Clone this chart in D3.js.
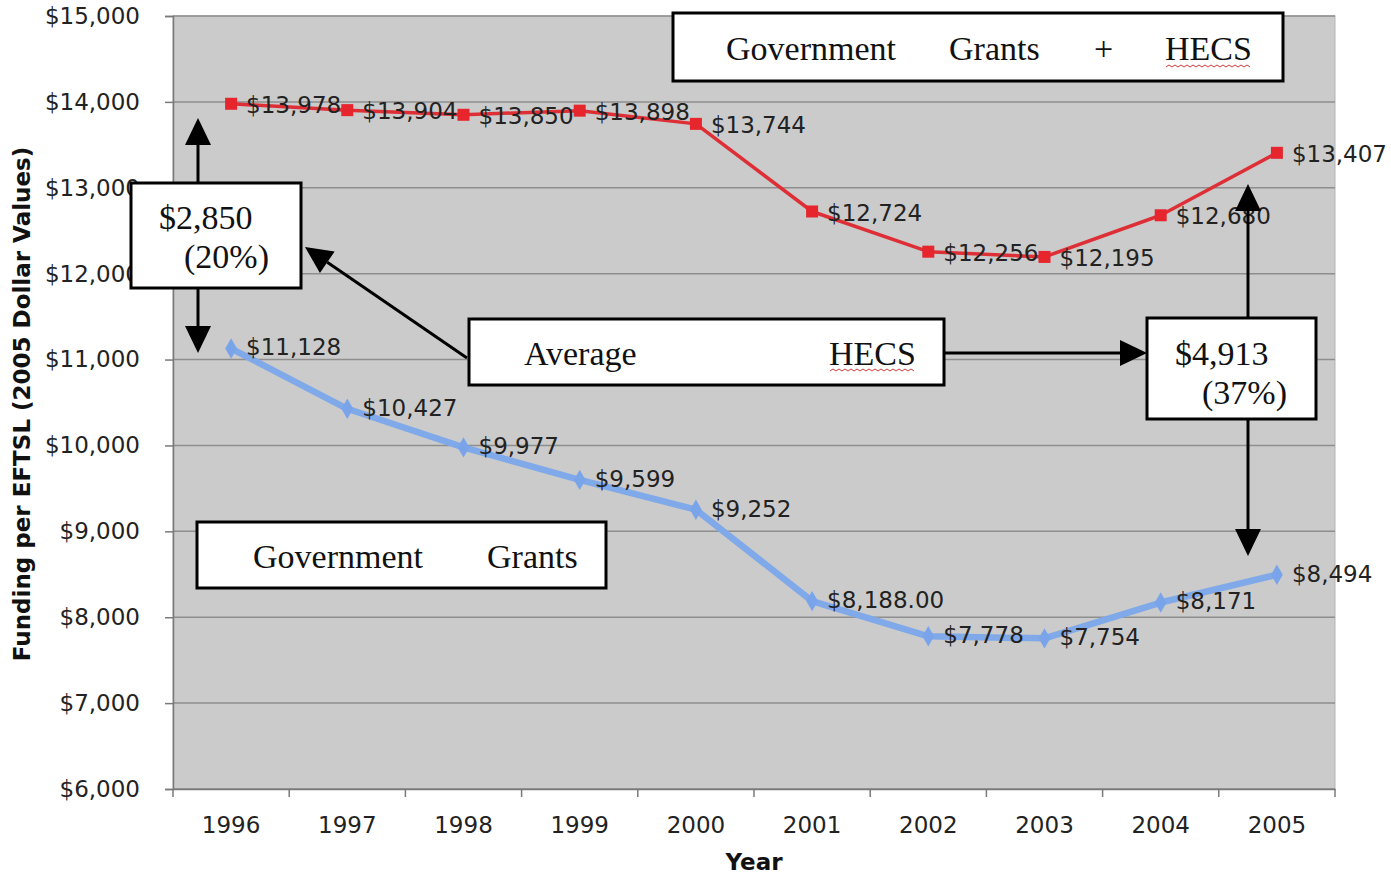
<!DOCTYPE html>
<html>
<head>
<meta charset="utf-8">
<script src="https://cdn.jsdelivr.net/npm/d3@7"></script>
<style>
  html, body { margin: 0; padding: 0; background: #ffffff; }
  svg { display: block; }
</style>
</head>
<body>
<svg id="chart" width="1391" height="874"></svg>
<script>
// ---- data ----
const years = ['1996','1997','1998','1999','2000','2001','2002','2003','2004','2005'];
const grantsPlusHecs = [13978, 13904, 13850, 13898, 13744, 12724, 12256, 12195, 12680, 13407];
const grantsOnly = [11128, 10427, 9977, 9599, 9252, 8188, 7778, 7754, 8171, 8494];
const grantsPlusHecsLabels = ['$13,978','$13,904','$13,850','$13,898','$13,744','$12,724','$12,256','$12,195','$12,680','$13,407'];
const grantsOnlyLabels = ['$11,128','$10,427','$9,977','$9,599','$9,252','$8,188.00','$7,778','$7,754','$8,171','$8,494'];
const yTicks = [6000, 7000, 8000, 9000, 10000, 11000, 12000, 13000, 14000, 15000];
const yTitle = 'Funding per EFTSL (2005 Dollar Values)';
const xTitle = 'Year';

// ---- layout ----
const svg = d3.select('#chart');
const L = 173, R = 1335, T = 16, B = 789;
const x = d3.scaleBand().domain(years).range([L, R]);
const y = d3.scaleLinear().domain([6000, 15000]).range([B, T]);
const cx = d => x(d) + x.bandwidth() / 2;
const sans = 'DejaVu Sans, Verdana, sans-serif';

// plot background
svg.append('rect').attr('x', L).attr('y', T).attr('width', R - L).attr('height', B - T)
  .attr('fill', '#cbcbcb').attr('stroke', '#b4b4b4').attr('stroke-width', 1);

// gridlines
svg.append('g').selectAll('line').data(yTicks).join('line')
  .attr('x1', L).attr('x2', R).attr('y1', d => y(d)).attr('y2', d => y(d))
  .attr('stroke', '#8e8e8e').attr('stroke-width', 1.5);

// y axis
const yAxis = svg.append('g').attr('transform', `translate(${L},0)`)
  .call(d3.axisLeft(y).tickValues(yTicks).tickFormat(d3.format('$,')).tickSize(8).tickPadding(25));
yAxis.select('.domain').attr('stroke', '#7a7a7a').attr('stroke-width', 1.5);
yAxis.selectAll('.tick line').attr('stroke', '#7a7a7a').attr('stroke-width', 1.5);
yAxis.selectAll('.tick text').attr('font-family', sans)
  .attr('font-size', 23).attr('fill', '#222');

// x axis
const xAxis = svg.append('g').attr('transform', `translate(0,${B})`)
  .call(d3.axisBottom(x).tickSize(0).tickPadding(30));
xAxis.select('.domain').attr('stroke', '#7a7a7a').attr('stroke-width', 1.5);
xAxis.selectAll('.tick text').attr('font-family', sans)
  .attr('font-size', 23).attr('fill', '#222').attr('dy', '0.35em').attr('y', 36);
// boundary ticks
svg.append('g').selectAll('line').data(years.concat(['end'])).join('line')
  .attr('x1', (d, i) => L + i * x.step()).attr('x2', (d, i) => L + i * x.step())
  .attr('y1', B).attr('y2', B + 8).attr('stroke', '#7a7a7a').attr('stroke-width', 1.5);

// axis titles
svg.append('text').attr('x', 754).attr('y', 870).attr('text-anchor', 'middle')
  .attr('font-family', sans).attr('font-weight', 'bold')
  .attr('font-size', 23).attr('fill', '#111').text(xTitle);
svg.append('text').attr('transform', 'translate(30,404) rotate(-90)').attr('text-anchor', 'middle')
  .attr('font-family', sans).attr('font-weight', 'bold')
  .attr('font-size', 23).attr('fill', '#111').text(yTitle);

// ---- series ----
const line = d3.line().x((d, i) => cx(years[i])).y(d => y(d));

// blue: government grants
svg.append('path').datum(grantsOnly).attr('d', line).attr('fill', 'none')
  .attr('stroke', '#80a9ea').attr('stroke-width', 6.5).attr('stroke-linejoin', 'round');
svg.append('g').selectAll('path').data(grantsOnly).join('path')
  .attr('d', d3.symbol(d3.symbolDiamond, 120))
  .attr('transform', (d, i) => `translate(${cx(years[i])},${y(d)})`)
  .attr('fill', '#7aa4ea');

// red: grants + HECS
svg.append('path').datum(grantsPlusHecs).attr('d', line).attr('fill', 'none')
  .attr('stroke', '#de2f36').attr('stroke-width', 3.5).attr('stroke-linejoin', 'round');
svg.append('g').selectAll('rect').data(grantsPlusHecs).join('rect')
  .attr('x', (d, i) => cx(years[i]) - 6).attr('y', d => y(d) - 6)
  .attr('width', 12).attr('height', 12).attr('fill', '#e6252d');

// data labels
svg.append('g').selectAll('text').data(grantsPlusHecs).join('text')
  .attr('x', (d, i) => cx(years[i]) + 15).attr('y', d => y(d)).attr('dy', '0.4em')
  .attr('font-family', sans).attr('font-size', 23).attr('fill', '#222')
  .text((d, i) => grantsPlusHecsLabels[i]);
svg.append('g').selectAll('text').data(grantsOnly).join('text')
  .attr('x', (d, i) => cx(years[i]) + 15).attr('y', d => y(d)).attr('dy', '0.3em')
  .attr('font-family', sans).attr('font-size', 23).attr('fill', '#222')
  .text((d, i) => grantsOnlyLabels[i]);

// ---- annotations ----
const serif = 'Liberation Serif, Times New Roman, serif';
const ann = svg.append('g');

function box(x0, y0, w, h) {
  ann.append('rect').attr('x', x0).attr('y', y0).attr('width', w).attr('height', h)
    .attr('fill', '#fff').attr('stroke', '#000').attr('stroke-width', 3);
}
function word(t, x0, y0, size) {
  ann.append('text').attr('x', x0).attr('y', y0).attr('font-family', serif)
    .attr('font-size', size || 34).attr('fill', '#111').text(t);
}
function squiggle(x0, x1, y0) {
  let p = `M${x0},${y0}`;
  let up = true;
  for (let xx = x0 + 3; xx <= x1; xx += 3) { p += `L${xx},${y0 + (up ? -2 : 0)}`; up = !up; }
  ann.append('path').attr('d', p).attr('fill', 'none').attr('stroke', '#d23a3a').attr('stroke-width', 1);
}
function arrow(x1, y1, x2, y2) {
  const ang = Math.atan2(y2 - y1, x2 - x1);
  const hl = 27, hw = 13;
  const bx = x2 - hl * Math.cos(ang), by = y2 - hl * Math.sin(ang);
  ann.append('line').attr('x1', x1).attr('y1', y1).attr('x2', bx).attr('y2', by)
    .attr('stroke', '#000').attr('stroke-width', 3);
  const px = -Math.sin(ang) * hw, py = Math.cos(ang) * hw;
  ann.append('path').attr('d', `M${x2},${y2}L${bx + px},${by + py}L${bx - px},${by - py}Z`).attr('fill', '#000');
}

// arrows
arrow(198, 183, 198, 118);
arrow(198, 288, 198, 353);
arrow(467, 358, 305, 247);
arrow(944, 353, 1147, 353);
arrow(1248, 318, 1248, 184);
arrow(1248, 420, 1248, 556);

// top box
box(673, 13, 610, 68);
word('Government', 726, 60); word('Grants', 949, 60); word('+', 1094, 60); word('HECS', 1165, 60);
squiggle(1166, 1252, 67);

// $2,850 box
box(131, 183, 170, 105);
word('$2,850', 159, 229); word('(20%)', 184, 268);

// Average HECS box
box(469, 319, 475, 66);
word('Average', 524, 365); word('HECS', 829, 365);
squiggle(830, 915, 371);

// $4,913 box
box(1147, 318, 169, 101);
word('$4,913', 1175, 365); word('(37%)', 1202, 404);

// Government Grants box
box(197, 522, 409, 66);
word('Government', 253, 568); word('Grants', 487, 568);
</script>
</body>
</html>
